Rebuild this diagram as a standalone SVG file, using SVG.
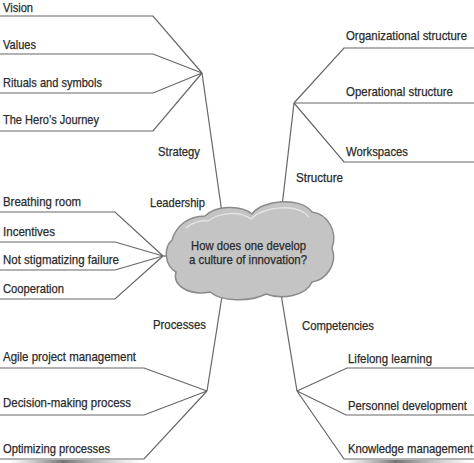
<svg xmlns="http://www.w3.org/2000/svg" width="474" height="463" viewBox="0 0 474 463">
<defs>
<style>
.t{font-family:"Liberation Sans",Arial,sans-serif;font-size:13px;fill:#2a2a2a;stroke:#2a2a2a;stroke-width:0.25px;}
.c{fill:none;stroke:#666;stroke-width:1.2;}
</style>
<linearGradient id="sh" x1="0" y1="0" x2="1" y2="0">
<stop offset="0" stop-color="#888" stop-opacity="0"/>
<stop offset="0.4" stop-color="#666" stop-opacity="0.9"/>
<stop offset="1" stop-color="#999" stop-opacity="0"/>
</linearGradient>
</defs>
<rect width="474" height="463" fill="#fff"/>
<g id="connectors">
<polyline class="c" points="0,16 153,16 202,73"/>
<polyline class="c" points="0,54 153,54 202,73"/>
<polyline class="c" points="0,93 153,93 202,73"/>
<polyline class="c" points="0,131 153,131 202,73"/>
<line class="c" x1="202" y1="73" x2="223" y2="220"/>
<polyline class="c" points="0,212 115,212 163,256"/>
<polyline class="c" points="0,242 115,242 163,256"/>
<polyline class="c" points="0,270 115,270 163,256"/>
<polyline class="c" points="0,299 115,299 163,256"/>
<line class="c" x1="163" y1="256" x2="172" y2="256"/>
<line class="c" x1="223" y1="290" x2="207" y2="391"/>
<polyline class="c" points="0,368 144,368 207,391"/>
<polyline class="c" points="0,415 144,415 207,391"/>
<polyline class="c" points="0,459 144,459 207,391"/>
<polyline class="c" points="474,48 344,48 294,103"/>
<polyline class="c" points="474,103 294,103"/>
<polyline class="c" points="474,162 344,162 294,103"/>
<line class="c" x1="294" y1="103" x2="281" y2="215"/>
<line class="c" x1="280" y1="288" x2="297" y2="391"/>
<polyline class="c" points="474,368 347,368 297,391"/>
<polyline class="c" points="474,415 346,415 297,391"/>
<polyline class="c" points="474,459 344,459 297,391"/>
</g>
<rect x="10" y="460" width="132" height="3" fill="url(#sh)"/>
<rect x="345" y="460" width="128" height="3" fill="url(#sh)"/>
<g id="center">
<path d="M 172,240 C 176,226 188,216 205,216 C 215,206 240,204 252,214 C 262,200 300,196 312,212 C 328,214 338,232 332,248 C 338,264 326,280 312,282 C 306,296 282,300 266,294 C 250,302 222,302 210,292 C 190,296 172,286 176,272 C 165,266 163,248 172,240 Z" fill="#c4c4c4" stroke="#8a8a8a" stroke-width="1.5"/>
<path d="M 186,228 C 193,222 202,220 208,221 C 220,212 240,211 251,219 C 263,206 298,203 309,217" fill="none" stroke="#e4e4e4" stroke-width="1.5"/>
<text class="t" x="191" y="250" textLength="115" lengthAdjust="spacingAndGlyphs">How does one develop</text>
<text class="t" x="189" y="264" textLength="118" lengthAdjust="spacingAndGlyphs">a culture of innovation?</text>
</g>
<g id="strategy">
<text class="t" x="158" y="156" textLength="42" lengthAdjust="spacingAndGlyphs">Strategy</text>
<text class="t" x="3" y="11.5" textLength="30" lengthAdjust="spacingAndGlyphs">Vision</text>
<text class="t" x="3" y="49" textLength="33" lengthAdjust="spacingAndGlyphs">Values</text>
<text class="t" x="3" y="87" textLength="99" lengthAdjust="spacingAndGlyphs">Rituals and symbols</text>
<text class="t" x="3" y="124" textLength="96" lengthAdjust="spacingAndGlyphs">The Hero’s Journey</text>
</g>
<g id="leadership">
<text class="t" x="150" y="207" textLength="55" lengthAdjust="spacingAndGlyphs">Leadership</text>
<text class="t" x="3" y="206" textLength="78" lengthAdjust="spacingAndGlyphs">Breathing room</text>
<text class="t" x="3" y="236" textLength="52" lengthAdjust="spacingAndGlyphs">Incentives</text>
<text class="t" x="3" y="264" textLength="116" lengthAdjust="spacingAndGlyphs">Not stigmatizing failure</text>
<text class="t" x="3" y="293" textLength="61" lengthAdjust="spacingAndGlyphs">Cooperation</text>
</g>
<g id="processes">
<text class="t" x="153" y="329" textLength="53" lengthAdjust="spacingAndGlyphs">Processes</text>
<text class="t" x="3" y="361" textLength="133" lengthAdjust="spacingAndGlyphs">Agile project management</text>
<text class="t" x="3" y="407" textLength="128" lengthAdjust="spacingAndGlyphs">Decision-making process</text>
<text class="t" x="3" y="453" textLength="107" lengthAdjust="spacingAndGlyphs">Optimizing processes</text>
</g>
<g id="structure">
<text class="t" x="296" y="182" textLength="47" lengthAdjust="spacingAndGlyphs">Structure</text>
<text class="t" x="346" y="40" textLength="121" lengthAdjust="spacingAndGlyphs">Organizational structure</text>
<text class="t" x="346" y="96" textLength="107" lengthAdjust="spacingAndGlyphs">Operational structure</text>
<text class="t" x="346" y="156" textLength="62" lengthAdjust="spacingAndGlyphs">Workspaces</text>
</g>
<g id="competencies">
<text class="t" x="302" y="330" textLength="72" lengthAdjust="spacingAndGlyphs">Competencies</text>
<text class="t" x="348" y="363" textLength="84" lengthAdjust="spacingAndGlyphs">Lifelong learning</text>
<text class="t" x="348" y="410" textLength="119" lengthAdjust="spacingAndGlyphs">Personnel development</text>
<text class="t" x="348" y="453" textLength="125" lengthAdjust="spacingAndGlyphs">Knowledge management</text>
</g>
</svg>
